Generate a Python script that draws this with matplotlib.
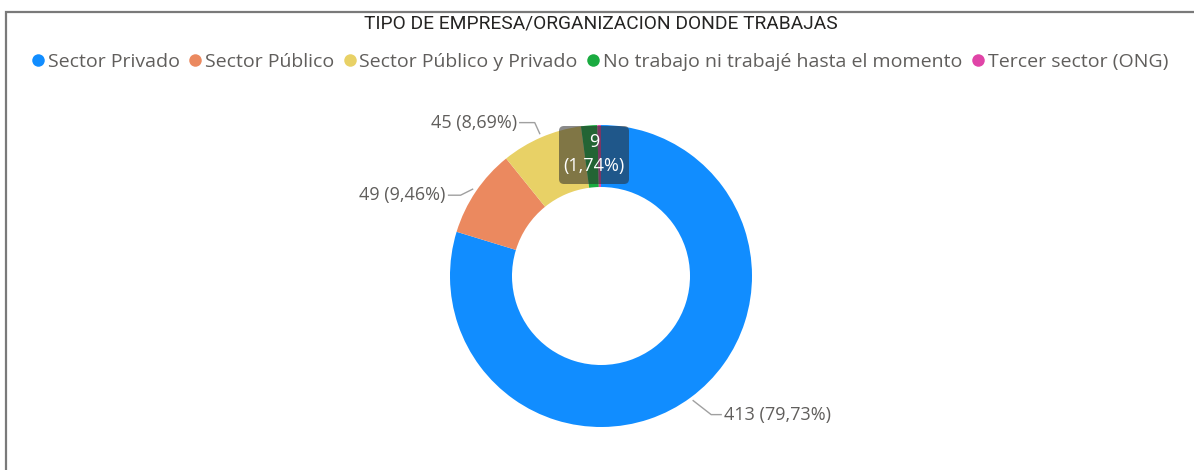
import numpy as np
import matplotlib.pyplot as plt
from matplotlib.lines import Line2D
from matplotlib.patches import FancyBboxPatch

plt.rcParams['font.family'] = ['Open Sans', 'DejaVu Sans']

# data
categories = ['Sector Privado', 'Sector Público', 'Sector Público y Privado',
              'No trabajo ni trabajé hasta el momento', 'Tercer sector (ONG)']
values = [413, 49, 45, 9, 2]
colors = ['#118DFF', '#EB895F', '#E8D166', '#1AAB40', '#E044A7']
title = 'TIPO DE EMPRESA/ORGANIZACION DONDE TRABAJAS'

W, H = 1194, 470
fig = plt.figure(figsize=(W / 100, H / 100), dpi=100)
ax = fig.add_axes([0, 0, 1, 1])

# frame of the visual
ax.plot([6, 6, W + 5], [-5, H - 12, H - 12], color='#7a7a7a', lw=1.6,
        solid_joinstyle='miter', clip_on=False)

cx, cy, r = 601, H - 276, 151
wedges, _ = ax.pie(values, colors=colors, startangle=90, counterclock=False,
                   center=(cx, cy), radius=r, frame=True,
                   wedgeprops=dict(width=62, linewidth=0))
ax.set_xlim(0, W)
ax.set_ylim(0, H)
ax.set_aspect('equal')
ax.axis('off')

total = sum(values)
pct = [v / total * 100 for v in values]

def fmt(v, p):
    return f'{v} ({p:.2f}%)'.replace('.', ',')

# outside labels with leader lines
label_color = '#605E5C'
line_color = '#A0A0A0'
for i, (dx1, dy1, dx2, side) in enumerate([(18, -14, 10, 'left'),
                                            (-12, -6, -12, 'right'),
                                            (-5, 11, -15, 'right')]):
    w = wedges[i]
    ang = np.deg2rad((w.theta1 + w.theta2) / 2)
    x0 = cx + (r + 4) * np.cos(ang)
    y0 = cy + (r + 4) * np.sin(ang)
    x1, y1 = x0 + dx1, y0 + dy1
    x2 = x1 + dx2
    ax.plot([x0, x1, x2], [y0, y1, y1], color=line_color, lw=1)
    tx = x2 + (3 if side == 'left' else -3)
    ax.text(tx, y1, fmt(values[i], pct[i]), ha=side, va='center',
            fontsize=13, color=label_color)

# highlighted data label box for the small slice
box = FancyBboxPatch((559, H - 184), 70, 58, boxstyle='round,pad=0,rounding_size=5',
                     facecolor='#2b2b2b', alpha=0.55, edgecolor='none')
ax.add_patch(box)
ax.text(594, H - 142, str(values[3]), ha='center', va='center',
        fontsize=13, color='white')
ax.text(594, H - 166, f'({pct[3]:.2f}%)'.replace('.', ','), ha='center',
        va='center', fontsize=13, color='white')

# title
fig.text(601 / W, 1 - 23 / H, title, ha='center', va='center',
         fontsize=13.8, color='#252423', family=['Roboto', 'DejaVu Sans'])

# legend
handles = [Line2D([], [], marker='o', ls='none', markersize=9,
                  markerfacecolor=c, markeredgecolor='none') for c in colors]
fig.legend(handles, categories, loc='center', bbox_to_anchor=(600 / W, 1 - 62 / H),
           ncol=5, frameon=False, fontsize=14, handlelength=0.6,
           handletextpad=0.2, columnspacing=0.5, labelcolor='#605E5C',
           borderpad=0)

fig.savefig('out.png', dpi=100)
